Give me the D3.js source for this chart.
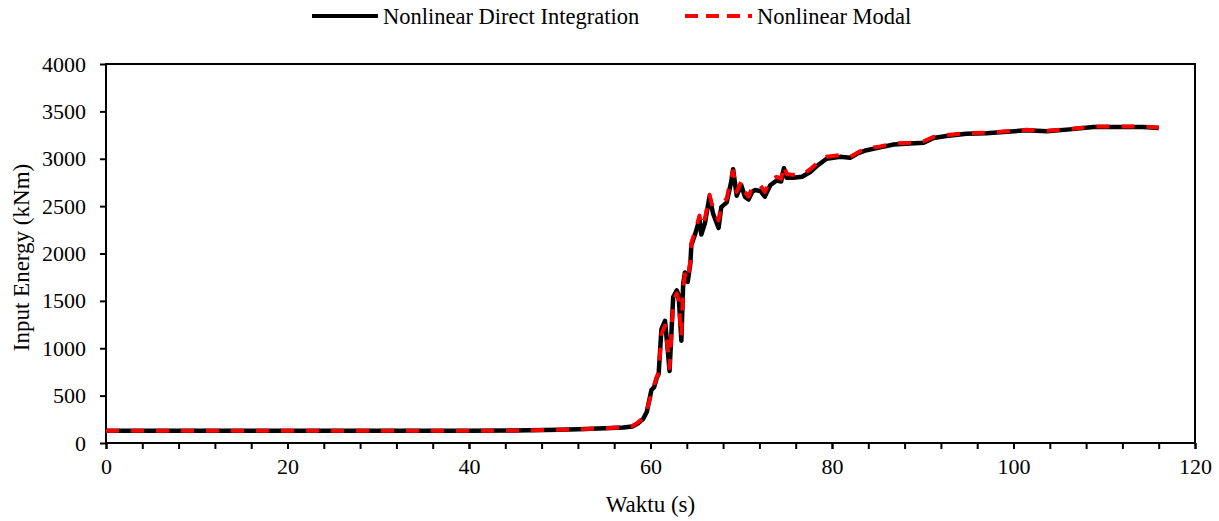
<!DOCTYPE html>
<html>
<head>
<meta charset="utf-8">
<script src="https://cdn.jsdelivr.net/npm/d3@7"></script>
<style>
  body { margin: 0; background: #fff; }
  svg text { font-family: "Liberation Serif", "Times New Roman", "DejaVu Serif", serif; }
</style>
</head>
<body>
<svg id="chart" width="1219" height="521"></svg>
<script>
// time (s)
var waktu = [0, 10, 20, 30, 40, 45, 50, 52, 55, 57, 58, 58.6, 59.2, 59.6, 60.1, 60.4, 60.7, 60.9,
  61.2, 61.6, 61.9, 62.1, 62.5, 62.9, 63.1, 63.4, 63.6, 63.8, 64.1, 64.4, 64.5, 64.9, 65.4, 65.6,
  66.0, 66.5, 66.9, 67.5, 67.8, 68.4, 68.9, 69.1, 69.5, 70.0, 70.4, 70.8, 71.2, 71.5, 72.1, 72.6,
  73.2, 73.9, 74.4, 74.7, 75.0, 75.7, 76.7, 77.6, 78.3, 79.4, 80.9, 82.0, 82.9, 83.8, 85.3, 86.8,
  88.6, 90.1, 91.2, 92.6, 94.8, 97.0, 99.3, 101.4, 103.7, 106.2, 108.8, 111.4, 114.3, 116.0];

// Nonlinear Direct Integration (kNm)
var directValues = [130, 130, 130, 130, 128, 132, 140, 145, 155, 163, 175, 205, 255, 330, 560, 590, 690, 730,
  1200, 1290, 980, 760, 1540, 1610, 1560, 1080, 1680, 1800, 1700, 1900, 2090, 2200, 2360, 2200,
  2320, 2600, 2420, 2270, 2490, 2540, 2760, 2890, 2610, 2720, 2600, 2570, 2650, 2670, 2660, 2600,
  2720, 2770, 2760, 2900, 2800, 2800, 2810, 2860, 2920, 3000, 3020, 3010, 3060, 3090, 3120, 3150,
  3160, 3170, 3220, 3240, 3265, 3270, 3285, 3300, 3290, 3310, 3335, 3335, 3335, 3325];

// Nonlinear Modal (kNm)
var modalValues = [130, 130, 130, 130, 128, 132, 140, 145, 155, 165, 180, 215, 265, 350, 520, 610, 700, 740,
  1150, 1240, 1000, 790, 1500, 1580, 1500, 1120, 1650, 1780, 1720, 1930, 2110, 2230, 2400, 2290,
  2370, 2620, 2470, 2350, 2520, 2580, 2800, 2870, 2650, 2760, 2650, 2600, 2700, 2710, 2720, 2650,
  2770, 2810, 2790, 2930, 2840, 2830, 2830, 2890, 2950, 3020, 3040, 3020, 3070, 3110, 3130, 3160,
  3170, 3185, 3230, 3250, 3270, 3275, 3290, 3305, 3295, 3315, 3340, 3340, 3340, 3330];

var xTicks = [0, 20, 40, 60, 80, 100, 120];
var xMinorTicks = d3.range(0, 121, 4);
var yTicks = [0, 500, 1000, 1500, 2000, 2500, 3000, 3500, 4000];

var seriesNames = ['Nonlinear Direct Integration', 'Nonlinear Modal'];

var serif = '"Liberation Serif", "Times New Roman", serif';

var margin = {top: 64, right: 24, bottom: 78, left: 106};
var width = 1219 - margin.left - margin.right;
var height = 521 - margin.top - margin.bottom;

var svg = d3.select('#chart').attr('font-family', serif);
var g = svg.append('g').attr('transform', 'translate(' + margin.left + ',' + margin.top + ')');

var x = d3.scaleLinear().domain([0, 120]).range([0, width]);
var y = d3.scaleLinear().domain([0, 4000]).range([height, 0]);

// minor x ticks
g.append('g')
  .attr('transform', 'translate(0,' + height + ')')
  .call(d3.axisBottom(x).tickValues(xMinorTicks).tickSize(6).tickFormat(''))
  .call(function(a) { a.select('.domain').remove(); a.selectAll('line').attr('stroke-width', 2); });

var xAxis = g.append('g')
  .attr('transform', 'translate(0,' + height + ')')
  .call(d3.axisBottom(x).tickValues(xTicks).tickSize(6).tickPadding(9).tickFormat(d3.format('d')));
xAxis.attr('font-family', serif).attr('font-size', 22);
xAxis.select('.domain').remove();
xAxis.selectAll('line').attr('stroke-width', 2);
xAxis.selectAll('text').attr('fill', '#000');

var yAxis = g.append('g')
  .call(d3.axisLeft(y).tickValues(yTicks).tickSize(6).tickPadding(14).tickFormat(d3.format('d')));
yAxis.attr('font-family', serif).attr('font-size', 22);
yAxis.select('.domain').remove();
yAxis.selectAll('line').attr('stroke-width', 2);
yAxis.selectAll('text').attr('fill', '#000');

// frame
g.append('rect')
  .attr('x', 0).attr('y', 0).attr('width', width).attr('height', height)
  .attr('fill', 'none').attr('stroke', '#000').attr('stroke-width', 2);

var line = function(vals) {
  return d3.line()
    .x(function(d, i) { return x(waktu[i]); })
    .y(function(d) { return y(d); })(vals);
};

g.append('path')
  .attr('d', line(directValues))
  .attr('fill', 'none').attr('stroke', '#000').attr('stroke-width', 4.5)
  .attr('stroke-linejoin', 'round');

g.append('path')
  .attr('d', line(modalValues))
  .attr('fill', 'none').attr('stroke', '#ff0000').attr('stroke-width', 4)
  .attr('stroke-dasharray', '13,12')
  .attr('stroke-linejoin', 'round');

// axis titles
svg.append('text')
  .attr('x', margin.left + width / 2).attr('y', 512)
  .attr('text-anchor', 'middle').attr('font-size', 23)
  .text('Waktu (s)');

svg.append('text')
  .attr('transform', 'translate(29,' + (margin.top + height / 2 + 4) + ') rotate(-90)')
  .attr('text-anchor', 'middle').attr('font-size', 23)
  .text('Input Energy (kNm)');

// legend
var legend = svg.append('g').attr('font-size', 22.5);
legend.append('line')
  .attr('x1', 312).attr('x2', 378).attr('y1', 16).attr('y2', 16)
  .attr('stroke', '#000').attr('stroke-width', 4);
legend.append('text')
  .attr('x', 383).attr('y', 24)
  .text(seriesNames[0]);
legend.append('line')
  .attr('x1', 685).attr('x2', 752).attr('y1', 16).attr('y2', 16)
  .attr('stroke', '#ff0000').attr('stroke-width', 4).attr('stroke-dasharray', '13,8');
legend.append('text')
  .attr('x', 757).attr('y', 24)
  .text(seriesNames[1]);
</script>
</body>
</html>
